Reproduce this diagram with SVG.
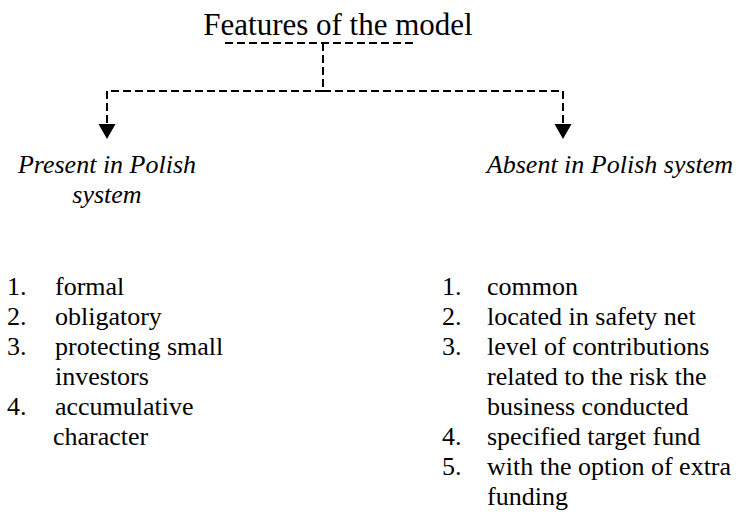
<svg xmlns="http://www.w3.org/2000/svg" width="739" height="514" viewBox="0 0 739 514">
<defs>
<style>
.dash{fill:none;stroke:#000;stroke-width:2;stroke-dasharray:8 4}
.head{fill:#000;stroke:none}
</style>
</defs>
<rect width="739" height="514" fill="#fff"/>
<g id="connectors">
<line class="dash" x1="225" y1="43" x2="417" y2="43"/>
<line class="dash" x1="323" y1="43" x2="323" y2="91"/>
<polyline class="dash" points="323,91 107,91 107,124"/>
<polyline class="dash" points="323,91 563,91 563,124"/>
<path class="head" d="M98.5,124 L115.5,124 L107,139 Z"/>
<path class="head" d="M554.5,124 L571.5,124 L563,139 Z"/>
</g>
<g id="title">
<text font-family="Liberation Serif" font-size="31" x="338" y="35" text-anchor="middle">Features of the model</text>
</g>
<g id="present">
<text font-family="Liberation Serif" font-size="26" font-style="italic" x="107" y="173" text-anchor="middle">Present in Polish</text>
<text font-family="Liberation Serif" font-size="26" font-style="italic" x="107" y="203" text-anchor="middle">system</text>
</g>
<g id="absent">
<text font-family="Liberation Serif" font-size="26" font-style="italic" x="610" y="173" text-anchor="middle">Absent in Polish system</text>
</g>
<g id="present-list">
<text font-family="Liberation Serif" font-size="26" x="7" y="295">1.</text><text font-family="Liberation Serif" font-size="26" x="55" y="295">formal</text>
<text font-family="Liberation Serif" font-size="26" x="7" y="325">2.</text><text font-family="Liberation Serif" font-size="26" x="55" y="325">obligatory</text>
<text font-family="Liberation Serif" font-size="26" x="7" y="355">3.</text><text font-family="Liberation Serif" font-size="26" x="55" y="355">protecting small</text>
<text font-family="Liberation Serif" font-size="26" x="55" y="385">investors</text>
<text font-family="Liberation Serif" font-size="26" x="7" y="415">4.</text><text font-family="Liberation Serif" font-size="26" x="55" y="415">accumulative</text>
<text font-family="Liberation Serif" font-size="26" x="53" y="445">character</text>
</g>
<g id="absent-list">
<text font-family="Liberation Serif" font-size="26" x="442" y="295">1.</text><text font-family="Liberation Serif" font-size="26" x="487" y="295">common</text>
<text font-family="Liberation Serif" font-size="26" x="442" y="325">2.</text><text font-family="Liberation Serif" font-size="26" x="487" y="325">located in safety net</text>
<text font-family="Liberation Serif" font-size="26" x="442" y="355">3.</text><text font-family="Liberation Serif" font-size="26" x="487" y="355">level of contributions</text>
<text font-family="Liberation Serif" font-size="26" x="487" y="385">related to the risk the</text>
<text font-family="Liberation Serif" font-size="26" x="487" y="415">business conducted</text>
<text font-family="Liberation Serif" font-size="26" x="442" y="445">4.</text><text font-family="Liberation Serif" font-size="26" x="487" y="445">specified target fund</text>
<text font-family="Liberation Serif" font-size="26" x="442" y="475">5.</text><text font-family="Liberation Serif" font-size="26" x="487" y="475">with the option of extra</text>
<text font-family="Liberation Serif" font-size="26" x="487" y="505">funding</text>
</g>
</svg>
